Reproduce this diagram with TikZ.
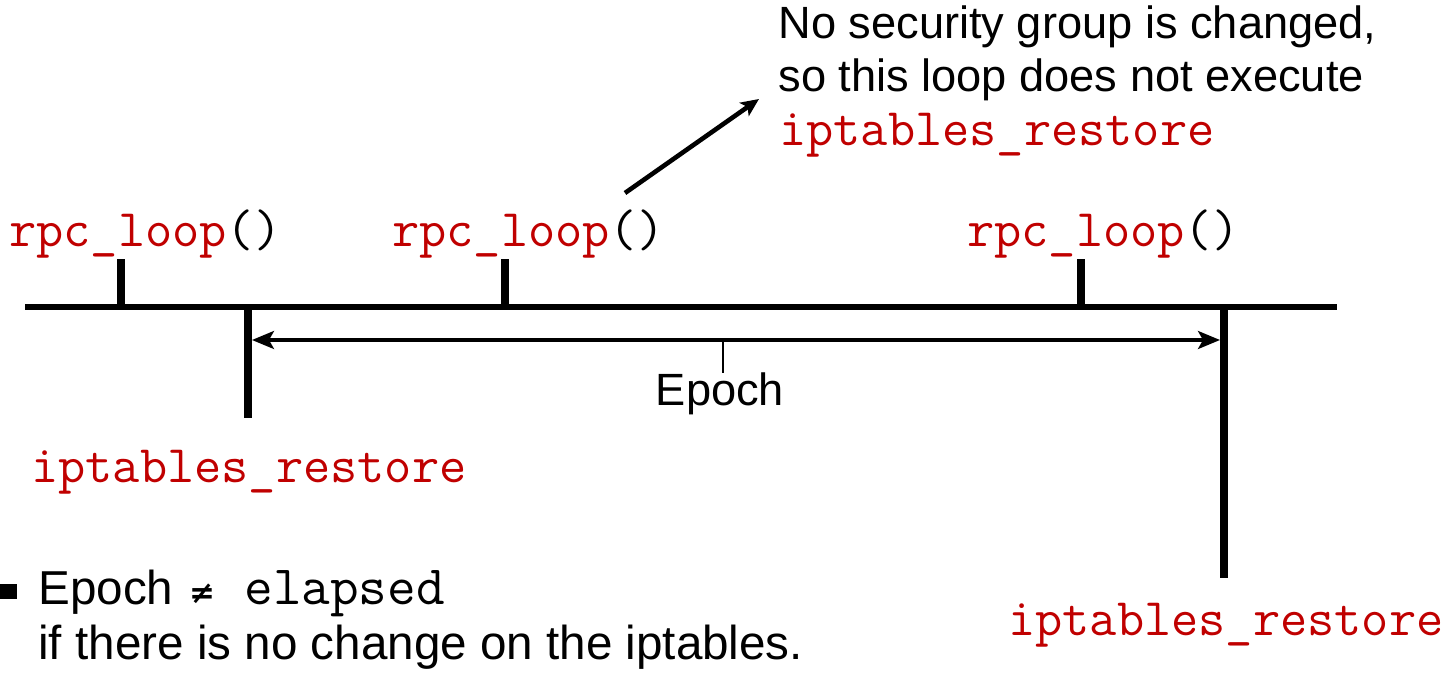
\documentclass[tikz,border=0pt]{standalone}
\usepackage{fontspec}
\setmainfont{Liberation Sans}
\newfontfamily\symfont{DejaVu Sans}
\usetikzlibrary{arrows.meta}
\definecolor{codered}{RGB}{192,0,0}
\begin{document}
\begin{tikzpicture}[x=0.5pt,y=-0.5pt,
  bar/.style={line width=3pt},
  tickmark/.style={line width=3.8pt},
  span/.style={line width=1.6pt,
    {Stealth[length=11pt,width=9pt,inset=2.5pt]}-{Stealth[length=11pt,width=9pt,inset=2.5pt]}},
  lead/.style={line width=0.6pt},
  callout/.style={line width=2.3pt,-{Stealth[length=9pt,width=8pt,inset=2pt]}},
  txt/.style={inner sep=0pt,anchor=base west,font=\fontsize{22.6}{26}\selectfont},
  big/.style={inner sep=0pt,anchor=base west,font=\fontsize{23.8}{27.5}\selectfont},
  code/.style={inner sep=0pt,anchor=base west,text=codered,
    font=\fontsize{26.4}{30}\selectfont\ttfamily},
]
\useasboundingbox (0,0) rectangle (1447,679);

% time line
\coordinate (lineL) at (25,307);
\coordinate (lineR) at (1337,307);
\draw[bar] (lineL) -- (lineR);

% rpc_loop() calls above the line
\coordinate (r1) at (121,307);
\coordinate (r2) at (505,307);
\coordinate (r3) at (1081,307);
\foreach \c in {r1,r2,r3}
  \draw[tickmark] (\c) -- ++(0,-48);

\node[code] (rpc1) at (9,247) {rpc\_loop\textcolor{black}{()}};
\node[code] (rpc2) at (392,247) {rpc\_loop\textcolor{black}{()}};
\node[code] (rpc3) at (967,247) {rpc\_loop\textcolor{black}{()}};

% iptables_restore points below the line
\coordinate (d1) at (248,307);
\coordinate (d2) at (1224,307);
\draw[tickmark] (d1) -- ++(0,111);
\draw[tickmark] (d2) -- ++(0,271);

\node[code] (ipt1) at (31,482) {iptables\_restore};
\node[code] (ipt2) at (1008,635) {iptables\_restore};

% epoch span
\coordinate (eL) at (252,340);
\coordinate (eR) at (1220,340);
\draw[span] (eL) -- (eR);
\node[txt,anchor=base] (epoch) at (720,406) {Epoch};
\coordinate (emid) at (723,340);
\draw[lead] (emid) -- (emid |- epoch.north);

% note on the middle loop
\node[txt] (note1) at (778,39) {No security group is changed,};
\node[txt] (note2) at (778,92) {so this loop does not execute};
\node[code] (note3) at (779,146) {iptables\_restore};
\coordinate (cs) at (625,193);
\coordinate (ce) at (759,99);
\draw[callout] (cs) -- (ce);

% bullet remark
\node[fill,minimum width=8.5pt,minimum height=7.5pt,inner sep=0pt] (bullet) at (8,591) {};
\node[big] (b1) at (38,604) {Epoch};
\node[inner sep=0pt,font=\symfont\bfseries\fontsize{15.5}{16}\selectfont] (neq) at (202,594) {≠};
\node[code,text=black,font=\fontsize{27.8}{30}\selectfont\ttfamily] (elapsed) at (244,604) {elapsed};
\node[big] (b2) at (38,659) {if there is no change on the iptables.};
\end{tikzpicture}
\end{document}
